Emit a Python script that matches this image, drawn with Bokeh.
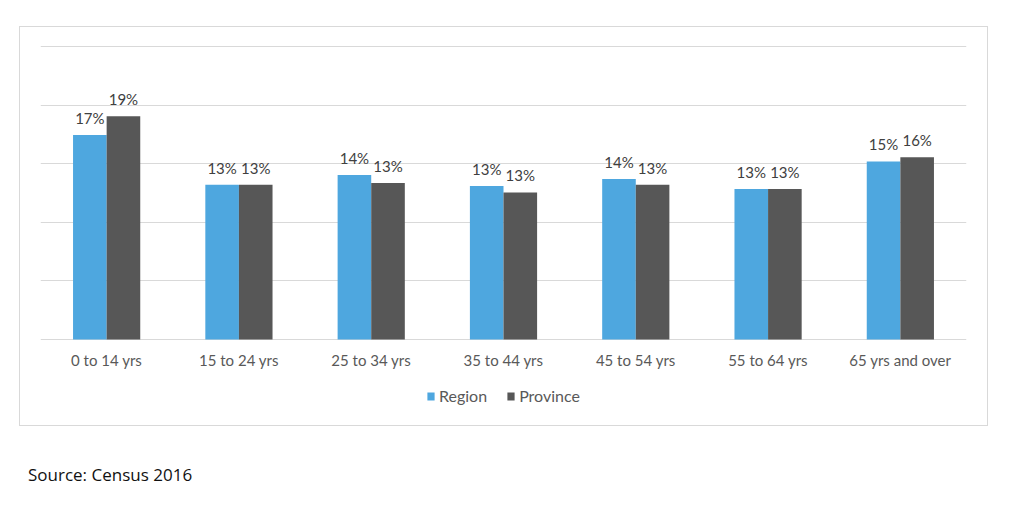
from bokeh.plotting import figure
from bokeh.models import (ColumnDataSource, FactorRange, Range1d, FixedTicker,
                          LabelSet, Legend, LegendItem, Div)
from bokeh.core.properties import value
from bokeh.transform import dodge
from bokeh.layouts import column
from bokeh.embed import file_html
from bokeh.resources import INLINE

categories = ["0 to 14 yrs", "15 to 24 yrs", "25 to 34 yrs", "35 to 44 yrs",
              "45 to 54 yrs", "55 to 64 yrs", "65 yrs and over"]
region = [17.45, 13.2, 14.05, 13.1, 13.7, 12.85, 15.2]
province = [19.05, 13.2, 13.35, 12.55, 13.2, 12.85, 15.55]
y_ticks = [0, 5, 10, 15, 20, 25]
source_note = "Source: Census 2016"

BLUE = "#4EA7DF"
GRAY = "#575757"
GRID = "#D9D9D9"
BW = 0.254

src = ColumnDataSource(dict(
    cat=categories,
    zero=[0] * len(categories),
    region=region,
    province=province,
    rlab=[f"{round(v)}%" for v in region],
    plab=[f"{round(v)}%" for v in province],
))

# frame extends below the zero line so that category labels and legend sit inside it
p = figure(x_range=FactorRange(*categories, range_padding=0),
           y_range=Range1d(-6.75, 25.1),
           width=969, height=400,
           output_backend="svg", toolbar_location=None,
           min_border_left=20, min_border_right=23,
           min_border_top=18, min_border_bottom=9)
p.margin = (26, 0, 0, 19)
p.styles = {"border": "1px solid #D9D9D9"}

rr = p.vbar(x=dodge("cat", -BW / 2, range=p.x_range), top="region", width=BW,
            source=src, fill_color=BLUE, line_color=None)
pr = p.vbar(x=dodge("cat", BW / 2, range=p.x_range), top="province", width=BW,
            source=src, fill_color=GRAY, line_color=None)

for col, lab, off in (("region", "rlab", -BW / 2), ("province", "plab", BW / 2)):
    ls = LabelSet(x=dodge("cat", off, range=p.x_range), y=col, text=lab, source=src,
                  text_align="center", text_baseline="alphabetic", y_offset=11,
                  text_font=value("Lato"), text_font_size="15px", text_color="#404040")
    p.add_layout(ls)

# category (tick) labels under the zero line
cat_labels = LabelSet(x="cat", y="zero", text="cat", source=src,
                      text_align="center", text_baseline="top", y_offset=-12,
                      text_font=value("Lato"), text_font_size="15px",
                      text_color="#595959")
p.add_layout(cat_labels)

p.xaxis.visible = False
p.yaxis.visible = False
p.ygrid.ticker = FixedTicker(ticks=y_ticks)
p.ygrid.grid_line_color = GRID
p.xgrid.grid_line_color = None
p.outline_line_color = None

legend = Legend(items=[LegendItem(label="Region", renderers=[rr]),
                       LegendItem(label="Province", renderers=[pr])],
                orientation="horizontal", location=(386, 13),
                label_text_font="Lato", label_text_font_size="16px",
                label_text_color="#595959", glyph_width=9, glyph_height=10,
                label_standoff=4, spacing=19, border_line_color=None,
                background_fill_alpha=0, padding=4, margin=0)
p.add_layout(legend)

div = Div(text=source_note, margin=(37, 0, 0, 28),
          styles={"font-family": "'Open Sans'", "font-size": "17px", "color": "#111"})

layout = column(p, div)
open("out.html", "w").write(file_html(layout, INLINE))
